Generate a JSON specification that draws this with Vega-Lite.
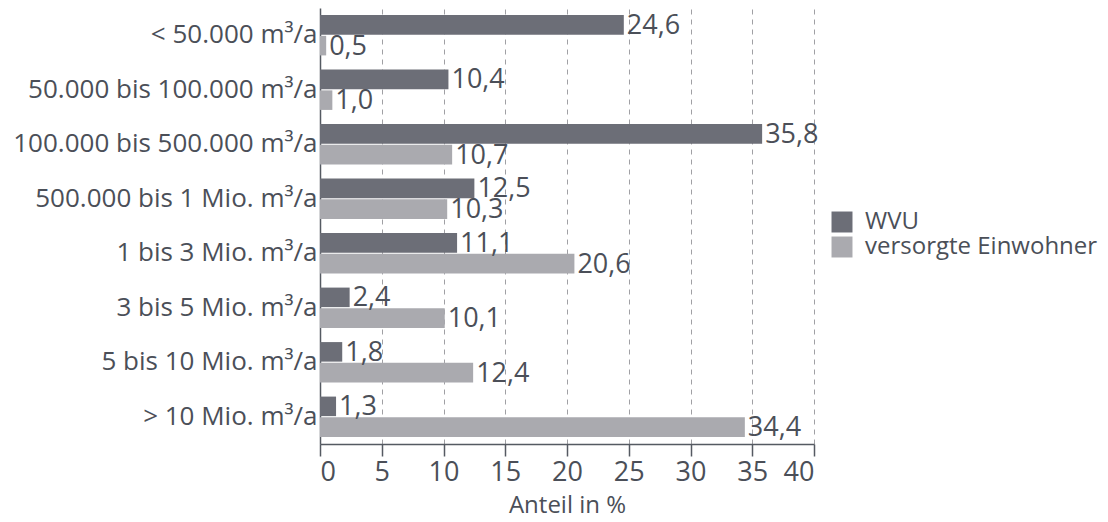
{
  "$schema": "https://vega.github.io/schema/vega-lite/v6.json",
  "autosize": {"type": "none"},
  "padding": {"left": 320, "top": 8, "right": 294, "bottom": 78},
  "width": 494,
  "height": 436,
  "background": "white",
  "config": {
    "locale": {"number": {"decimal": ",", "thousands": ".", "grouping": [3], "currency": ["", " €"]}},
    "font": "Open Sans",
    "view": {"stroke": null},
    "axis": {"labelColor": "#4b4f58", "titleColor": "#4b4f58", "labelFont": "Open Sans", "titleFont": "Open Sans"},
    "legend": {"labelColor": "#4b4f58", "labelFont": "Open Sans"}
  },
  "data": {
    "values": [
      {"klasse": "< 50.000 m³/a", "serie": "WVU", "anteil": 24.6},
      {"klasse": "< 50.000 m³/a", "serie": "versorgte Einwohner", "anteil": 0.5},
      {"klasse": "50.000 bis 100.000 m³/a", "serie": "WVU", "anteil": 10.4},
      {"klasse": "50.000 bis 100.000 m³/a", "serie": "versorgte Einwohner", "anteil": 1.0},
      {"klasse": "100.000 bis 500.000 m³/a", "serie": "WVU", "anteil": 35.8},
      {"klasse": "100.000 bis 500.000 m³/a", "serie": "versorgte Einwohner", "anteil": 10.7},
      {"klasse": "500.000 bis 1 Mio. m³/a", "serie": "WVU", "anteil": 12.5},
      {"klasse": "500.000 bis 1 Mio. m³/a", "serie": "versorgte Einwohner", "anteil": 10.3},
      {"klasse": "1 bis 3 Mio. m³/a", "serie": "WVU", "anteil": 11.1},
      {"klasse": "1 bis 3 Mio. m³/a", "serie": "versorgte Einwohner", "anteil": 20.6},
      {"klasse": "3 bis 5 Mio. m³/a", "serie": "WVU", "anteil": 2.4},
      {"klasse": "3 bis 5 Mio. m³/a", "serie": "versorgte Einwohner", "anteil": 10.1},
      {"klasse": "5 bis 10 Mio. m³/a", "serie": "WVU", "anteil": 1.8},
      {"klasse": "5 bis 10 Mio. m³/a", "serie": "versorgte Einwohner", "anteil": 12.4},
      {"klasse": "> 10 Mio. m³/a", "serie": "WVU", "anteil": 1.3},
      {"klasse": "> 10 Mio. m³/a", "serie": "versorgte Einwohner", "anteil": 34.4}
    ]
  },
  "encoding": {
    "y": {
      "field": "klasse", "type": "nominal", "sort": null,
      "scale": {"paddingInner": 0.26, "paddingOuter": 0.13},
      "axis": {"title": null, "ticks": false, "labelPadding": 3, "labelFontSize": 26, "labelLimit": 400, "domainColor": "#555a62", "domainWidth": 1.5, "grid": false}
    },
    "yOffset": {
      "field": "serie", "type": "nominal",
      "sort": ["WVU", "versorgte Einwohner"],
      "scale": {"paddingInner": 0.06}
    },
    "x": {
      "field": "anteil", "type": "quantitative",
      "scale": {"domain": [0, 40], "nice": false},
      "axis": {
        "title": "Anteil in %", "titleFontSize": 24, "titleFontWeight": "normal", "titlePadding": 8,
        "values": [0, 5, 10, 15, 20, 25, 30, 35, 40],
        "labelFontSize": 27, "labelPadding": 3, "tickSize": 12, "tickColor": "#555a62", "domainColor": "#555a62", "domainWidth": 1.5, "tickWidth": 1.5,
        "grid": true, "gridDash": [5, 5], "gridColor": "#a0a0a4", "gridWidth": 1
      }
    }
  },
  "layer": [
    {
      "mark": {"type": "bar"},
      "encoding": {
        "color": {
          "field": "serie", "type": "nominal",
          "scale": {"domain": ["WVU", "versorgte Einwohner"], "range": ["#6c6e77", "#aaaaaf"]},
          "legend": {
            "title": null, "orient": "none", "legendX": 510, "legendY": 202,
            "symbolType": "square", "symbolSize": 440, "symbolStrokeWidth": 0,
            "labelFontSize": 24, "labelOffset": 11, "rowPadding": 1, "labelLimit": 400
          }
        }
      }
    },
    {
      "mark": {"type": "text", "align": "left", "baseline": "middle", "dx": 3, "dy": 1, "fontSize": 27, "color": "#4b4f58"},
      "encoding": {
        "text": {"field": "anteil", "type": "quantitative", "format": ".1f"}
      }
    }
  ]
}
